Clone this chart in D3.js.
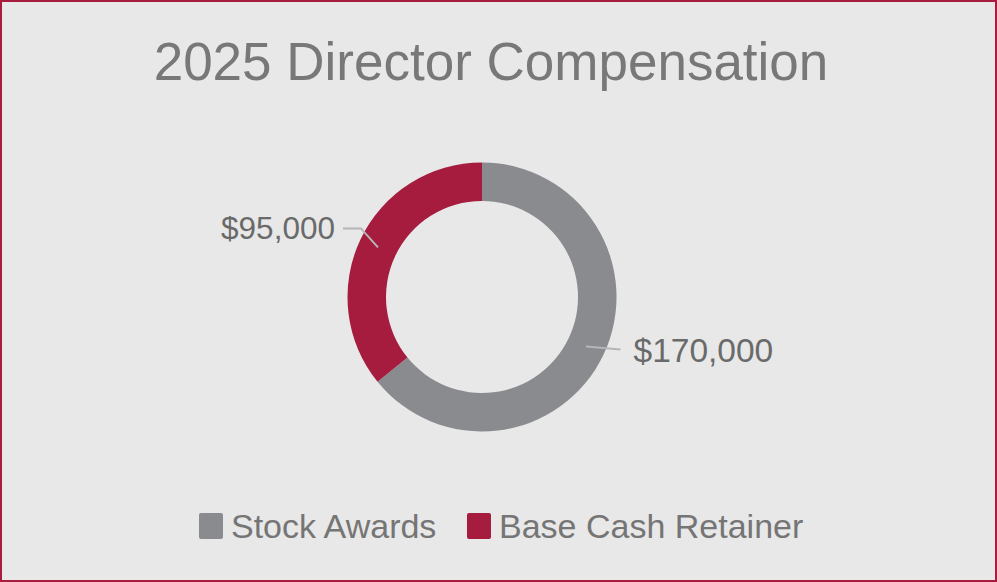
<!DOCTYPE html>
<html>
<head>
<meta charset="utf-8">
<script src="https://cdn.jsdelivr.net/npm/d3@7"></script>
<style>
  html, body { margin: 0; padding: 0; background: #e8e8e8; }
  svg { display: block; font-family: "Liberation Sans", Arial, sans-serif; }
</style>
</head>
<body>
<svg width="997" height="582"></svg>
<script>
// Data
const categories = ["Stock Awards", "Base Cash Retainer"];
const values = [170000, 95000];
const colors = ["#8a8b8e", "#a61c3e"];
const title = "2025 Director Compensation";

const svg = d3.select("svg");
const W = 997, H = 582;

// background + frame
svg.append("rect")
  .attr("x", 1).attr("y", 1)
  .attr("width", W - 2).attr("height", H - 2)
  .attr("fill", "#e8e8e8")
  .attr("stroke", "#a81c3e")
  .attr("stroke-width", 2);

svg.append("text")
  .attr("x", 491)
  .attr("y", 80)
  .attr("text-anchor", "middle")
  .attr("font-size", 53)
  .attr("fill", "#787878")
  .text(title);

// Donut
const cx = 482, cy = 297;
const outerR = 134.5, innerR = 96;

const pie = d3.pie().sort(null).value(d => d);
const arcs = pie(values);
const arc = d3.arc().innerRadius(innerR).outerRadius(outerR);

const g = svg.append("g").attr("transform", `translate(${cx},${cy})`);

g.selectAll("path.slice")
  .data(arcs)
  .enter()
  .append("path")
  .attr("class", "slice")
  .attr("d", arc)
  .attr("fill", (d, i) => colors[i]);

// leader lines + value labels
const fmt = d3.format("$,");
const labelSize = [33.5, 31.5];

arcs.forEach((d, i) => {
  const c = arc.centroid(d);
  let pts, tx, ty, anchor;
  if (i === 0) {
    pts = [c, [outerR + 4, c[1] + 3]];
    tx = outerR + 17; ty = c[1] + 15; anchor = "start";
  } else {
    const elbow = [c[0] - 17, c[1] - 19];
    pts = [c, elbow, [elbow[0] - 18, elbow[1]]];
    tx = elbow[0] - 26; ty = elbow[1] + 11; anchor = "end";
  }
  g.append("path")
    .attr("d", d3.line()(pts))
    .attr("fill", "none")
    .attr("stroke", "#b5b5b7")
    .attr("stroke-width", 2);
  g.append("text")
    .attr("x", tx)
    .attr("y", ty)
    .attr("text-anchor", anchor)
    .attr("font-size", labelSize[i])
    .attr("fill", "#6a6a6a")
    .text(fmt(d.data));
});

// Legend
const legendX = [199, 467];
const legend = svg.append("g");
categories.forEach((name, i) => {
  legend.append("rect")
    .attr("x", legendX[i])
    .attr("y", 513)
    .attr("width", 24)
    .attr("height", 26)
    .attr("rx", 2)
    .attr("fill", colors[i]);
  legend.append("text")
    .attr("x", legendX[i] + 32)
    .attr("y", 538)
    .attr("font-size", 34)
    .attr("fill", "#757575")
    .text(name);
});
</script>
</body>
</html>
